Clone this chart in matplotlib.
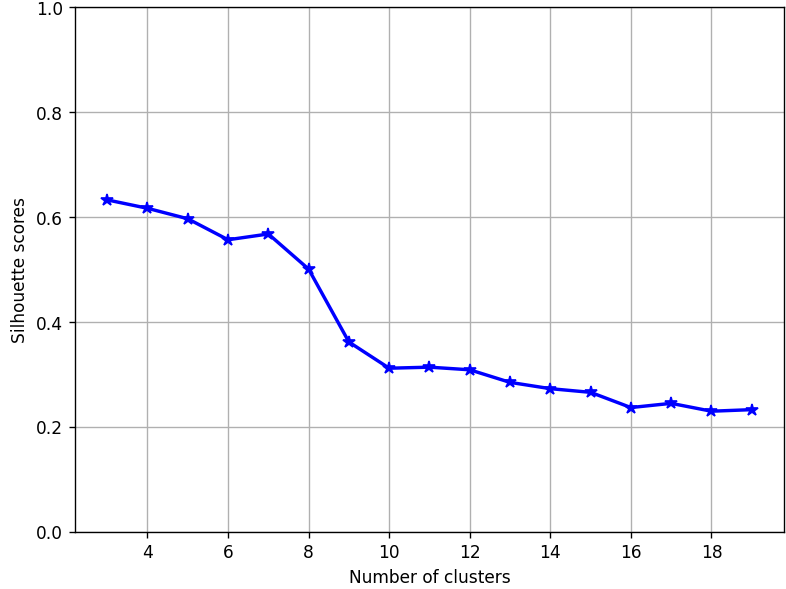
import numpy as np
import matplotlib
matplotlib.use("Agg")
import matplotlib.pyplot as plt

# numero de clusters e scores de silhueta
n_clusters = [3, 4, 5, 6, 7, 8, 9, 10, 11, 12, 13, 14, 15, 16, 17, 18, 19]
silhouette = [0.633, 0.617, 0.597, 0.557, 0.568, 0.501, 0.362, 0.312, 0.314,
              0.309, 0.285, 0.273, 0.266, 0.237, 0.245, 0.230, 0.233]

fig = plt.figure(figsize=(6.4, 4.8), dpi=786 / 6.4)
ax = fig.add_axes([0.0954, 0.097, 0.902, 0.8895])

ax.plot(n_clusters, silhouette, 'b-*', linewidth=2, markersize=7)
ax.set_ylim(0, 1)
ax.set_xlabel("Number of clusters")
ax.set_ylabel("Silhouette scores")
ax.grid(True)

fig.savefig("out.png", dpi=786 / 6.4)
